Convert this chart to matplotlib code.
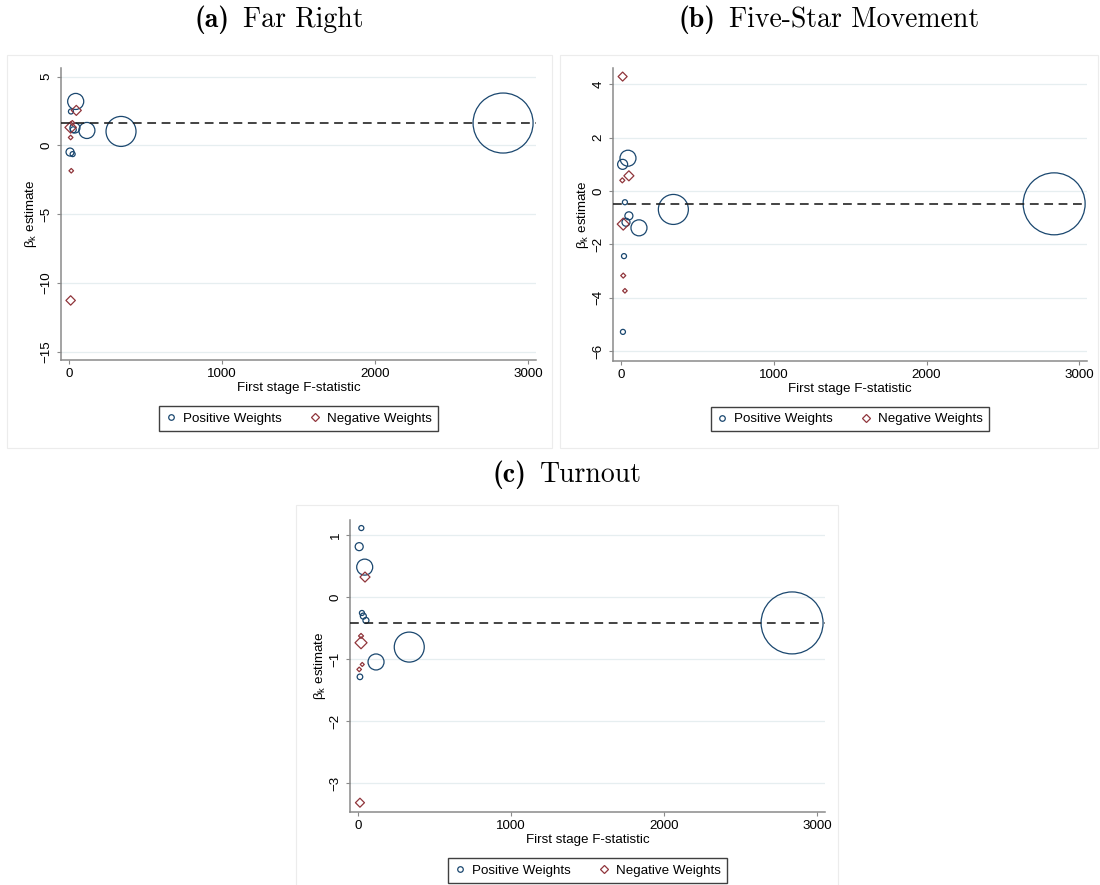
import matplotlib
matplotlib.use("Agg")
import matplotlib.pyplot as plt
from matplotlib.lines import Line2D
from matplotlib.patches import Rectangle

plt.rcParams['font.family'] = ['Liberation Sans', 'DejaVu Sans']
plt.rcParams['mathtext.fontset'] = 'cm'

# (a) Far Right
far_right_pos_f = [2835, 340, 117, 44, 13, 39, 28, 7, 24]
far_right_pos_beta = [1.63, 1.02, 1.09, 3.2, 2.47, 1.27, 1.14, -0.48, -0.63]
far_right_pos_w = [0.60, 0.15, 0.043, 0.043, 0.0042, 0.0167, 0.006, 0.0107, 0.0042]
far_right_neg_f = [48, 22, 11, 11, 15, 11]
far_right_neg_beta = [2.55, 1.63, 1.31, 0.58, -1.84, -11.27]
far_right_neg_w = [0.0167, 0.0042, 0.0217, 0.0035, 0.0035, 0.0147]
far_right_mean = 1.62

# (b) Five-Star Movement
m5s_pos_f = [2835, 343, 118, 46, 11, 26, 52, 33, 20, 13]
m5s_pos_beta = [-0.48, -0.69, -1.38, 1.23, 1.0, -0.42, -0.93, -1.17, -2.44, -5.28]
m5s_pos_w = [0.64, 0.15, 0.0427, 0.0427, 0.0167, 0.0042, 0.0107, 0.0107, 0.0042, 0.0042]
m5s_neg_f = [11, 52, 9, 15, 15, 26]
m5s_neg_beta = [4.29, 0.57, 0.40, -1.24, -3.17, -3.74]
m5s_neg_w = [0.0135, 0.0167, 0.0042, 0.024, 0.0042, 0.0035]
m5s_mean = -0.49

# (c) Turnout
turnout_pos_f = [2835, 335, 118, 44, 22, 8, 26, 35, 52, 13]
turnout_pos_beta = [-0.41, -0.80, -1.04, 0.49, 1.12, 0.82, -0.25, -0.30, -0.37, -1.28]
turnout_pos_w = [0.64, 0.15, 0.0427, 0.0427, 0.0042, 0.0107, 0.0042, 0.006, 0.006, 0.0052]
turnout_neg_f = [46, 20, 20, 28, 8, 13]
turnout_neg_beta = [0.33, -0.62, -0.73, -1.08, -1.16, -3.31]
turnout_neg_w = [0.0167, 0.0042, 0.024, 0.0027, 0.0035, 0.0135]
turnout_mean = -0.41

navy = '#1a476f'
maroon = '#90353b'
W, H = 1100, 885

fig = plt.figure(figsize=(11, 8.85), dpi=100)

panels = [
    dict(tag='(a)', title='Far Right', tx=279, ty=27,
         frame=(7, 55, 552, 448), rect=(61, 68.3, 536, 360),
         ylim=(-15.6, 5.61), yticks=[5, 0, -5, -10, -15],
         pos=(far_right_pos_f, far_right_pos_beta, far_right_pos_w),
         neg=(far_right_neg_f, far_right_neg_beta, far_right_neg_w),
         mean=far_right_mean),
    dict(tag='(b)', title='Five-Star Movement', tx=829, ty=27,
         frame=(560, 55, 1098, 448), rect=(613, 68.3, 1087, 360.7),
         ylim=(-6.36, 4.6), yticks=[4, 2, 0, -2, -4, -6],
         pos=(m5s_pos_f, m5s_pos_beta, m5s_pos_w),
         neg=(m5s_neg_f, m5s_neg_beta, m5s_neg_w),
         mean=m5s_mean),
    dict(tag='(c)', title='Turnout', tx=567, ty=482,
         frame=(296, 505, 838, 890), rect=(350, 520, 825, 812),
         ylim=(-3.46, 1.25), yticks=[1, 0, -1, -2, -3],
         pos=(turnout_pos_f, turnout_pos_beta, turnout_pos_w),
         neg=(turnout_neg_f, turnout_neg_beta, turnout_neg_w),
         mean=turnout_mean),
]

titles = []
for p in panels:
    x0, y0, x1, y1 = p['frame']
    fig.add_artist(Rectangle((x0 / W, 1 - y1 / H), (x1 - x0) / W, (y1 - y0) / H,
                             transform=fig.transFigure, fill=False,
                             ec='#ececec', lw=0.8))
    t1 = fig.text(0, 1 - p['ty'] / H, p['tag'], ha='left', va='baseline',
                  fontsize=20, family='cmb10')
    t2 = fig.text(0, 1 - p['ty'] / H, p['title'], ha='left', va='baseline',
                  fontsize=20, family='cmr10')
    titles.append((p['tx'], t1, t2))

    l, t, r, b = p['rect']
    ax = fig.add_axes([l / W, 1 - b / H, (r - l) / W, (b - t) / H])
    ax.set_xlim(-52, 3050)
    ax.set_ylim(*p['ylim'])
    ax.set_yticks(p['yticks'])
    ax.set_xticks([0, 1000, 2000, 3000])
    for y in p['yticks']:
        ax.axhline(y, color='#e6eef0', lw=0.9, zorder=0)

    f, beta, w = p['pos']
    ax.scatter(f, beta, s=[3110 * v for v in w], marker='o', facecolors='none',
               edgecolors=navy, linewidths=0.9, clip_on=False, zorder=3)
    f, beta, w = p['neg']
    ax.scatter(f, beta, s=[1556 * v for v in w], marker='D', facecolors='none',
               edgecolors=maroon, linewidths=0.9, clip_on=False, zorder=3)
    ax.axhline(p['mean'], color='#1a1a1a', lw=1.15, ls=(0, (5.5, 3.5)), zorder=4)

    for side in ['top', 'right']:
        ax.spines[side].set_visible(False)
    for side in ['left', 'bottom']:
        ax.spines[side].set_color('#8a8a8a')
        ax.spines[side].set_linewidth(1.1)
    ax.tick_params(axis='both', length=3, width=0.8, color='#8a8a8a',
                   labelsize=9.6, pad=3)
    ax.tick_params(axis='y', labelrotation=90)
    for lab in ax.get_yticklabels():
        lab.set_va('center')

    ax.set_xlabel('First stage F-statistic', fontsize=9.6, labelpad=1.5)
    ax.set_ylabel(r'$\mathregular{\beta_k}$ estimate', fontsize=9.6, labelpad=1)

    handles = [
        Line2D([], [], ls='none', marker='o', ms=4, mfc='none', mec=navy, mew=0.9),
        Line2D([], [], ls='none', marker='D', ms=4, mfc='none', mec=maroon, mew=0.9),
    ]
    leg = ax.legend(handles, ['Positive Weights', 'Negative Weights'], loc='center',
                    bbox_to_anchor=(0.5, -0.2), ncol=2, frameon=True, fancybox=False,
                    edgecolor='#404040', framealpha=1, handlelength=0.8,
                    handletextpad=0.5, columnspacing=2.1, borderpad=0.45,
                    fontsize=9.6)
    leg.get_frame().set_linewidth(1.0)

# centre each "(x) Title" pair on its panel
fig.canvas.draw()
renderer = fig.canvas.get_renderer()
gap = 13
for cx, t1, t2 in titles:
    w1 = t1.get_window_extent(renderer).width
    w2 = t2.get_window_extent(renderer).width
    start = cx - (w1 + gap + w2) / 2
    t1.set_x(start / W)
    t2.set_x((start + w1 + gap) / W)

fig.savefig('out.png', dpi=100)
